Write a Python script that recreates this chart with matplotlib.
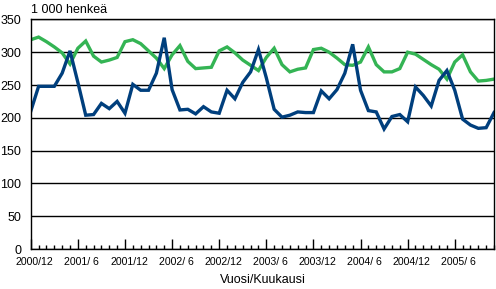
import matplotlib
matplotlib.use("Agg")
from matplotlib import pyplot as plt
from matplotlib.transforms import ScaledTranslation
import numpy as np

plt.rcParams['font.family'] = ['Liberation Sans', 'DejaVu Sans']

# monthly values, 2000/12 .. 2005/11 (1 000 persons)
blue = [210, 248, 248, 248, 268, 302, 254, 204, 205, 222,
        214, 225, 207, 251, 242, 242, 268, 322, 243, 212,
        213, 206, 217, 209, 207, 242, 229, 254, 270, 304,
        261, 213, 201, 204, 209, 208, 208, 241, 229, 243,
        268, 312, 242, 211, 209, 183, 202, 205, 194, 247,
        234, 218, 257, 272, 242, 198, 189, 184, 185, 208]
green = [319, 323, 316, 308, 299, 282, 306, 317, 294, 285,
         288, 292, 316, 319, 313, 302, 291, 275, 296, 310,
         286, 275, 276, 277, 302, 308, 299, 288, 280, 272,
         292, 306, 281, 270, 274, 276, 304, 306, 300, 291,
         281, 280, 285, 308, 281, 270, 270, 275, 300, 297,
         289, 281, 274, 259, 285, 296, 270, 256, 257, 259]
tick_labels = ['2000/12', '2001/ 6', '2001/12', '2002/ 6', '2002/12',
               '2003/ 6', '2003/12', '2004/ 6', '2004/12', '2005/ 6']

fig = plt.figure(figsize=(4.96, 2.89), dpi=100)
ax = fig.add_axes([0.062, 0.138, 0.934, 0.795])

x = np.arange(len(blue))
ax.plot(x, green, color='#34b454', lw=2.4, solid_joinstyle='miter')
ax.plot(x, blue, color='#003f7d', lw=2.4, solid_joinstyle='miter')

ax.set_xlim(0, len(blue) - 1)
ax.set_ylim(0, 350)
ax.set_yticks(range(0, 351, 50))
ax.yaxis.grid(True, color='black', lw=1)
ax.set_axisbelow(True)
ax.tick_params(axis='y', length=0, pad=7, labelsize=9)

ax.set_xticks(np.arange(0, len(blue), 6))
ax.set_xticklabels(tick_labels)
ax.set_xticks(x, minor=True)
ax.tick_params(axis='x', which='major', direction='in', length=7, width=1, pad=6, labelsize=7.6)
ax.tick_params(axis='x', which='minor', direction='in', length=3, width=1)
for lbl in ax.get_xticklabels():
    lbl.set_transform(lbl.get_transform() + ScaledTranslation(4 / 100, 0, fig.dpi_scale_trans))

for s in ax.spines.values():
    s.set_color('black')
    s.set_linewidth(1)

ax.set_xlabel('Vuosi/Kuukausi', fontsize=9, labelpad=5)
fig.text(0.063, 0.945, '1 000 henkeä', fontsize=9, ha='left', va='bottom')

fig.savefig('out.png', dpi=100)
